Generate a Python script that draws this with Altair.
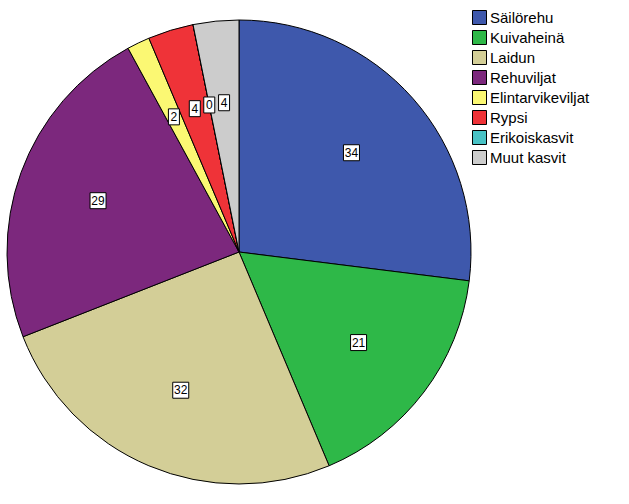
import altair as alt
import pandas as pd

categories = ["Säilörehu", "Kuivaheinä", "Laidun", "Rehuviljat",
              "Elintarvikeviljat", "Rypsi", "Erikoiskasvit", "Muut kasvit"]
values = [34, 21, 32, 29, 2, 4, 0, 4]
colors = ["#3E58AC", "#2EB848", "#D3CE97", "#7C287D",
          "#FBF873", "#EF3338", "#48C2C5", "#CCCCCC"]

df = pd.DataFrame({"category": categories, "value": values,
                   "idx": list(range(len(categories)))})

CX, CY, R, LR = 239, 252, 232, 150

pie = alt.Chart(df).mark_arc(stroke="black", strokeWidth=1, outerRadius=R).encode(
    theta=alt.Theta("value:Q", stack=True),
    color=alt.Color("category:N",
                    scale=alt.Scale(domain=categories, range=colors),
                    sort=categories,
                    legend=alt.Legend(title=None, orient="none", legendX=472, legendY=10,
                                      symbolType="square", symbolSize=196,
                                      symbolStrokeColor="black", symbolStrokeWidth=1,
                                      symbolOpacity=1,
                                      labelFont="Liberation Sans", labelFontSize=15,
                                      labelColor="black", labelOffset=3,
                                      rowPadding=1, labelLimit=300)),
    order=alt.Order("idx:Q"),
    x=alt.value(CX),
    y=alt.value(CY),
)

lab = alt.Chart(df).transform_window(
    cum="sum(value)", sort=[alt.SortField("idx")], frame=[None, 0]
).transform_joinaggregate(total="sum(value)").transform_calculate(
    mid="(datum.cum - datum.value/2)/datum.total*2*PI",
    px=f"{CX} + {LR}*sin(datum.mid)",
    py=f"{CY} - {LR}*cos(datum.mid)",
    hw="length(datum.value + '') > 1 ? 8 : 5.5",
    x1="datum.px - datum.hw",
    x2="datum.px + datum.hw",
    y1="datum.py - 8",
    y2="datum.py + 8",
    txt="datum.value + ''",
)

boxes = lab.mark_rect(fill="white", stroke="black", strokeWidth=1).encode(
    x=alt.X("x1:Q", scale=None, axis=None),
    x2="x2:Q",
    y=alt.Y("y1:Q", scale=None, axis=None),
    y2="y2:Q",
)

texts = lab.mark_text(font="Liberation Sans", fontSize=12, color="black",
                      align="center", baseline="middle").encode(
    x=alt.X("px:Q", scale=None, axis=None),
    y=alt.Y("py:Q", scale=None, axis=None),
    text="txt:N",
)

chart = alt.layer(pie, boxes, texts).properties(
    width=629, height=504, padding=0, autosize="none"
).configure_view(stroke=None)

chart.save("out.html", embed_options={"renderer": "svg", "actions": False})
